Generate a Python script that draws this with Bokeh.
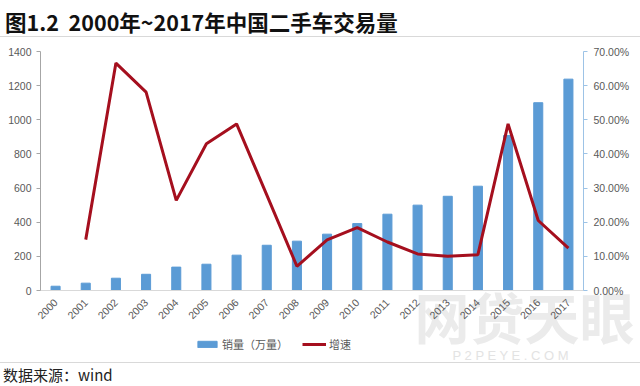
import math
from bokeh.plotting import figure
from bokeh.models import (Range1d, LinearAxis, NumeralTickFormatter, FixedTicker,
                          Legend, LegendItem, Label, Div)
from bokeh.layouts import column
from bokeh.embed import file_html
from bokeh.resources import INLINE

years = [str(y) for y in range(2000, 2018)]
sales = [25, 43, 72, 95, 137, 154, 207, 265, 289, 330, 392, 447, 500, 552, 611, 908, 1100, 1238]
growth_years = years[1:]
growth = [0.149, 0.666, 0.581, 0.264, 0.430, 0.488, 0.28, 0.071, 0.148, 0.184,
          0.142, 0.107, 0.100, 0.105, 0.488, 0.205, 0.124]
left_ticks = [0, 200, 400, 600, 800, 1000, 1200, 1400]
right_ticks = [0.0, 0.1, 0.2, 0.3, 0.4, 0.5, 0.6, 0.7]

# category positions on the axis
idx = {y: i for i, y in enumerate(years)}
x_sales = [idx[y] for y in years]
x_growth = [idx[y] for y in growth_years]
n = len(years)

TICK_FONT = "Liberation Sans"
CJK = "Noto Sans CJK SC"

W, H = 640, 325
PLOT_L, PLOT_R = 40, 583           # pixel positions of the two value axes
cat_w = (PLOT_R - PLOT_L) / n
x_start = -0.5 - PLOT_L / cat_w
x_end = n - 0.5 + (W - PLOT_R) / cat_w

TOP_PAD, ZERO_OFF = 14, 72
span = H - TOP_PAD - ZERO_OFF
lo_frac, hi_frac = ZERO_OFF / span, TOP_PAD / span

p = figure(x_range=Range1d(x_start, x_end),
           y_range=Range1d(-1400 * lo_frac, 1400 * (1 + hi_frac)),
           width=W, height=H, output_backend="svg", toolbar_location=None,
           min_border_left=0, min_border_right=0, min_border_top=0, min_border_bottom=0,
           x_axis_location=None, y_axis_location=None)
p.outline_line_color = None
p.xgrid.visible = False
p.ygrid.visible = False

# left axis
ya = LinearAxis(ticker=FixedTicker(ticks=left_ticks), bounds=(0, 1400), fixed_location=-0.5)
ya.axis_line_color = "#a6a6a6"
ya.major_tick_line_color = "#a6a6a6"
ya.major_tick_out = 4
ya.major_tick_in = 0
ya.minor_tick_line_color = None
ya.major_label_text_font = TICK_FONT
ya.major_label_text_font_size = "10.5px"
ya.major_label_text_color = "#595959"
ya.major_label_standoff = 5
p.add_layout(ya, "left")

# right axis
p.extra_y_ranges = {"pct": Range1d(-0.7 * lo_frac, 0.7 * (1 + hi_frac))}
ra = LinearAxis(y_range_name="pct", ticker=FixedTicker(ticks=right_ticks),
                formatter=NumeralTickFormatter(format="0.00%"), bounds=(0, 0.7),
                fixed_location=n - 0.5)
ra.axis_line_color = "#9dc3e6"
ra.major_tick_line_color = "#9dc3e6"
ra.major_tick_out = 4
ra.major_tick_in = 0
ra.minor_tick_line_color = None
ra.major_label_text_font = TICK_FONT
ra.major_label_text_font_size = "10.5px"
ra.major_label_text_color = "#595959"
ra.major_label_standoff = 6
p.add_layout(ra, "right")

# x axis drawn at value 0
xa = LinearAxis(fixed_location=0, ticker=FixedTicker(ticks=x_sales), bounds=(-0.5, n - 0.5),
                major_label_overrides={i: y for i, y in enumerate(years)})
xa.axis_line_color = "#d9d9d9"
xa.major_tick_line_color = None
xa.minor_tick_line_color = None
xa.major_label_orientation = math.pi / 4
xa.major_label_text_font = TICK_FONT
xa.major_label_text_font_size = "10.5px"
xa.major_label_text_color = "#595959"
xa.major_label_standoff = 4
p.add_layout(xa, "below")

# watermark
wm = Label(x=414, y=8, x_units="screen", y_units="screen", text="网贷天眼",
           text_font=CJK, text_font_size="55px", text_font_style="bold",
           text_color="#ebebeb", text_baseline="bottom", level="underlay")
p.add_layout(wm)
wm2 = Label(x=452, y=0, x_units="screen", y_units="screen",
            text="P   2   P   E   Y   E   .   C   O   M",
            text_font=TICK_FONT, text_font_size="13px",
            text_color="#e3e3e3", text_baseline="bottom", level="underlay")
p.add_layout(wm2)

bars = p.vbar(x=x_sales, top=sales, width=0.3, fill_color="#5b9bd5", line_color="#5b9bd5")
line = p.line(x=x_growth, y=growth, y_range_name="pct", line_color="#a50f1e", line_width=3)

legend = Legend(items=[LegendItem(label="销量（万量）", renderers=[bars]),
                       LegendItem(label="增速", renderers=[line])],
                orientation="horizontal", location=(195, 10),
                border_line_color=None, background_fill_alpha=0,
                label_text_font=CJK, label_text_font_size="11px", label_text_color="#595959",
                glyph_width=24, glyph_height=8, spacing=14, padding=0, label_standoff=3,
                label_height=14)
p.add_layout(legend)

title = Div(text="图1.2&nbsp;&nbsp;2000年~2017年中国二手车交易量", width=W, height=37, margin=0,
            styles={"font-family": CJK, "font-size": "21.5px", "font-weight": "bold",
                    "color": "#111111", "border-bottom": "1px solid #d9d9d9",
                    "box-sizing": "border-box", "line-height": "36px",
                    "padding-top": "4px", "padding-left": "5px"})
footer = Div(text="数据来源：wind", width=W, height=24, margin=0,
             styles={"font-family": CJK, "font-size": "15px", "color": "#222222",
                     "border-top": "1px solid #d9d9d9", "box-sizing": "border-box",
                     "line-height": "24px", "padding-left": "3px"})

layout = column(title, p, footer, spacing=0)
open("out.html", "w").write(file_html(layout, INLINE))
